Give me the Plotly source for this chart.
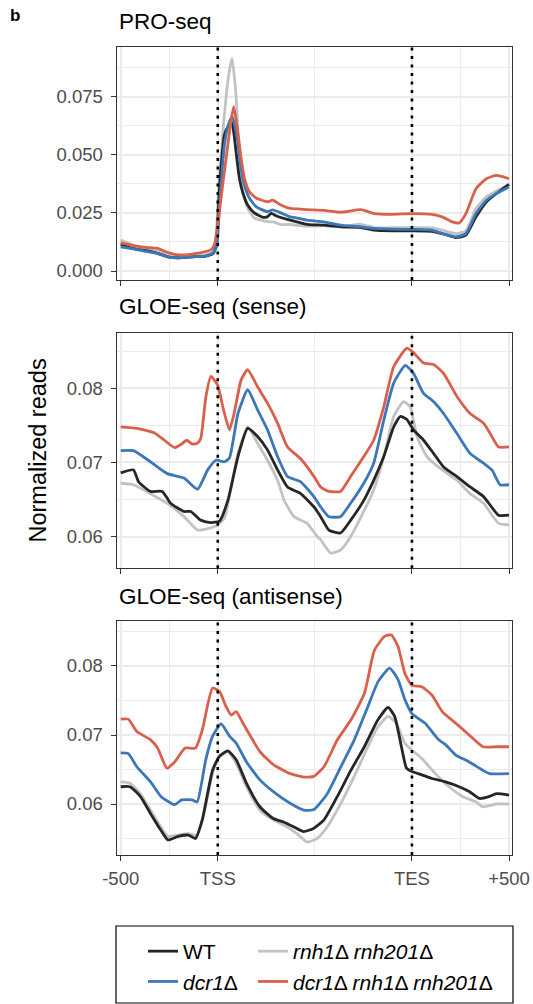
import plotly.graph_objects as go

W, H = 533, 1004
FONT = "Liberation Sans, Arial, Helvetica, sans-serif"

# ---------------- data (x: -500..0 upstream, 0..1000 scaled gene body, 1000..1500 downstream)
# PRO-seq
pro_wt_x = [-500, -417, -363, -310, -257, -204, -133, -62, -23, -5, 5, 15, 34, 55, 72, 85, 94, 111, 128, 154, 188, 230, 255, 275, 300, 373, 460, 547, 634, 738, 807, 894, 1000, 1103, 1156, 1226, 1278, 1330, 1383, 1435, 1500]
pro_wt_y = [0.0114, 0.0093, 0.0087, 0.0076, 0.0061, 0.0057, 0.0061, 0.0064, 0.0076, 0.012, 0.030, 0.043, 0.0585, 0.0625, 0.0640, 0.058, 0.0513, 0.040, 0.034, 0.0284, 0.025, 0.0232, 0.0233, 0.0248, 0.0238, 0.0219, 0.0201, 0.0197, 0.019, 0.0187, 0.0176, 0.0173, 0.0173, 0.0171, 0.0161, 0.0144, 0.0154, 0.0233, 0.0297, 0.0333, 0.0373]
pro_dcr_x = [-500, -417, -363, -310, -257, -204, -133, -62, -23, -5, 10, 34, 55, 75, 94, 103, 120, 137, 163, 197, 257, 282, 325, 373, 410, 460, 547, 634, 738, 807, 894, 1000, 1103, 1156, 1226, 1278, 1330, 1383, 1435, 1500]
pro_dcr_y = [0.0104, 0.0093, 0.0083, 0.0076, 0.0061, 0.0057, 0.0061, 0.0064, 0.0079, 0.011, 0.030, 0.054, 0.063, 0.0664, 0.060, 0.0556, 0.0443, 0.037, 0.0314, 0.0277, 0.0255, 0.0263, 0.025, 0.0233, 0.0228, 0.0219, 0.0211, 0.0197, 0.019, 0.0183, 0.018, 0.0179, 0.0176, 0.0161, 0.0147, 0.0161, 0.0247, 0.0304, 0.0333, 0.0361]
pro_rnh_x = [-500, -417, -363, -310, -257, -204, -133, -62, -23, -10, 3, 28, 54, 73, 94, 111, 128, 154, 188, 257, 286, 325, 373, 460, 547, 634, 738, 807, 894, 1000, 1103, 1156, 1226, 1278, 1330, 1383, 1435, 1500]
pro_rnh_y = [0.0133, 0.0104, 0.009, 0.0083, 0.0064, 0.0057, 0.0061, 0.0069, 0.0083, 0.013, 0.033, 0.0615, 0.083, 0.0915, 0.0757, 0.047, 0.0341, 0.027, 0.0228, 0.0212, 0.0211, 0.020, 0.020, 0.0193, 0.0194, 0.019, 0.0201, 0.0186, 0.0186, 0.0186, 0.0186, 0.0176, 0.0161, 0.0173, 0.0269, 0.0319, 0.0344, 0.0373]
pro_dr_x = [-500, -417, -363, -310, -257, -204, -133, -62, -30, -15, 34, 82, 103, 120, 137, 163, 197, 257, 282, 325, 373, 410, 460, 547, 634, 738, 807, 894, 1000, 1103, 1156, 1208, 1243, 1278, 1330, 1383, 1435, 1500]
pro_dr_y = [0.0121, 0.0107, 0.0101, 0.0097, 0.0079, 0.0069, 0.0073, 0.0083, 0.0095, 0.012, 0.0427, 0.0707, 0.060, 0.0486, 0.040, 0.0341, 0.0314, 0.0298, 0.0305, 0.0284, 0.0269, 0.0267, 0.0264, 0.0261, 0.0253, 0.0264, 0.0247, 0.0244, 0.0247, 0.0244, 0.0233, 0.0211, 0.0207, 0.0247, 0.0354, 0.0397, 0.0411, 0.0397]

# GLOE-seq (sense)
sen_wt_x = [-500, -434, -408, -347, -286, -243, -174, -139, -87, -35, 9, 52, 104, 154, 205, 256, 308, 359, 427, 496, 530, 572, 632, 684, 752, 803, 855, 906, 940, 974, 1008, 1060, 1112, 1163, 1232, 1300, 1369, 1446, 1500]
sen_wt_y = [0.0686, 0.0690, 0.0674, 0.0661, 0.0661, 0.0645, 0.0634, 0.0634, 0.0622, 0.0619, 0.0621, 0.0649, 0.0708, 0.0746, 0.0735, 0.0717, 0.0690, 0.0667, 0.0658, 0.0640, 0.0627, 0.0609, 0.0605, 0.0622, 0.0649, 0.0676, 0.0708, 0.0748, 0.0762, 0.0758, 0.0744, 0.0730, 0.0712, 0.0694, 0.0681, 0.0667, 0.0654, 0.0629, 0.0629]
sen_dcr_x = [-500, -434, -347, -260, -174, -104, -52, -9, 34, 60, 104, 154, 205, 256, 308, 359, 427, 495, 530, 572, 632, 684, 752, 803, 855, 906, 966, 1008, 1060, 1112, 1163, 1232, 1300, 1369, 1412, 1454, 1500]
sen_dcr_y = [0.0716, 0.0716, 0.0701, 0.0685, 0.0679, 0.0664, 0.0690, 0.0703, 0.0701, 0.0706, 0.0766, 0.0798, 0.0771, 0.0744, 0.0708, 0.0681, 0.0674, 0.0654, 0.0640, 0.0627, 0.0627, 0.0645, 0.0672, 0.0699, 0.0757, 0.0807, 0.0831, 0.0820, 0.0793, 0.0782, 0.0766, 0.0739, 0.0712, 0.0699, 0.0690, 0.0670, 0.0670]
sen_rnh_x = [-500, -434, -347, -260, -174, -104, -52, 0, 34, 69, 104, 154, 205, 256, 308, 342, 393, 461, 513, 530, 581, 632, 684, 752, 803, 855, 906, 957, 991, 1026, 1077, 1146, 1232, 1300, 1369, 1446, 1500]
sen_rnh_y = [0.0672, 0.0670, 0.0658, 0.0645, 0.0627, 0.0609, 0.0611, 0.0616, 0.0625, 0.0667, 0.0712, 0.0748, 0.0726, 0.0703, 0.0676, 0.0649, 0.0627, 0.0618, 0.0600, 0.0596, 0.0578, 0.0582, 0.0600, 0.0634, 0.0663, 0.0708, 0.0762, 0.0782, 0.0775, 0.0735, 0.0708, 0.0692, 0.0676, 0.0658, 0.0645, 0.0618, 0.0616]
sen_dr_x = [-500, -417, -328, -275, -222, -186, -160, -133, -104, -87, -61, -35, 0, 26, 60, 85, 120, 154, 205, 256, 308, 359, 427, 496, 530, 572, 632, 684, 752, 803, 855, 906, 974, 1008, 1060, 1112, 1163, 1232, 1300, 1369, 1403, 1446, 1500]
sen_dr_y = [0.0748, 0.0746, 0.0740, 0.0730, 0.0720, 0.0725, 0.0730, 0.0725, 0.0726, 0.0733, 0.0789, 0.0816, 0.0804, 0.0775, 0.0744, 0.0767, 0.0811, 0.0825, 0.0802, 0.0780, 0.0753, 0.0721, 0.0705, 0.0681, 0.0667, 0.0661, 0.0661, 0.0681, 0.0708, 0.0730, 0.0775, 0.0829, 0.0854, 0.0848, 0.0834, 0.0832, 0.0820, 0.0789, 0.0766, 0.0753, 0.0739, 0.0721, 0.0721]

# GLOE-seq (antisense)
ant_wt_x = [-500, -452, -399, -346, -293, -257, -204, -151, -115, -80, -27, 9, 52, 95, 148, 217, 286, 339, 391, 443, 495, 547, 616, 686, 755, 825, 877, 911, 946, 972, 1000, 1033, 1103, 1173, 1243, 1295, 1348, 1400, 1435, 1500]
ant_wt_y = [0.0625, 0.0625, 0.0611, 0.0586, 0.0562, 0.0548, 0.0553, 0.0555, 0.0550, 0.0577, 0.0649, 0.0669, 0.0677, 0.0664, 0.0630, 0.0596, 0.0579, 0.0574, 0.0567, 0.0560, 0.0565, 0.0577, 0.0611, 0.0649, 0.0683, 0.0722, 0.0740, 0.0727, 0.0683, 0.0652, 0.0647, 0.0644, 0.0637, 0.0632, 0.0625, 0.0618, 0.0608, 0.0611, 0.0615, 0.0613]
ant_dcr_x = [-500, -461, -417, -346, -293, -222, -186, -133, -106, -62, -27, 17, 61, 95, 148, 217, 286, 373, 443, 495, 564, 634, 703, 773, 825, 885, 929, 964, 1000, 1068, 1138, 1173, 1226, 1295, 1365, 1400, 1500]
ant_dcr_y = [0.0674, 0.0673, 0.0654, 0.0632, 0.0611, 0.0599, 0.0606, 0.0606, 0.0603, 0.0664, 0.0698, 0.0716, 0.0698, 0.0688, 0.0661, 0.0635, 0.0618, 0.0601, 0.0591, 0.0592, 0.0615, 0.0654, 0.0693, 0.0741, 0.0777, 0.0797, 0.0780, 0.0751, 0.0731, 0.0717, 0.0693, 0.0686, 0.0671, 0.0661, 0.0649, 0.0644, 0.0644]
ant_rnh_x = [-500, -452, -399, -346, -293, -257, -204, -151, -106, -71, -27, 9, 52, 95, 148, 217, 286, 356, 408, 460, 512, 564, 634, 703, 773, 825, 877, 920, 964, 1000, 1051, 1121, 1191, 1261, 1330, 1365, 1435, 1500]
ant_rnh_y = [0.0632, 0.0630, 0.0615, 0.0591, 0.0567, 0.0553, 0.0555, 0.0557, 0.0555, 0.0586, 0.0644, 0.0671, 0.0676, 0.0659, 0.0625, 0.0591, 0.0577, 0.0567, 0.0557, 0.0545, 0.0550, 0.0567, 0.0601, 0.0640, 0.0683, 0.0712, 0.0727, 0.0717, 0.0688, 0.0678, 0.0666, 0.0644, 0.0625, 0.0611, 0.0603, 0.0596, 0.0600, 0.0600]
ant_dr_x = [-500, -461, -417, -346, -310, -262, -222, -168, -115, -80, -27, 9, 43, 69, 95, 130, 165, 217, 286, 373, 443, 495, 547, 616, 686, 755, 807, 859, 894, 929, 964, 1000, 1051, 1103, 1156, 1226, 1295, 1365, 1435, 1500]
ant_dr_y = [0.0723, 0.0723, 0.0705, 0.0693, 0.0681, 0.0652, 0.0661, 0.0681, 0.0681, 0.0707, 0.0768, 0.0763, 0.0741, 0.0729, 0.0734, 0.0717, 0.0700, 0.0676, 0.0657, 0.0644, 0.0639, 0.0640, 0.0654, 0.0693, 0.0722, 0.0760, 0.0823, 0.0843, 0.0845, 0.0828, 0.0789, 0.0772, 0.0770, 0.0758, 0.0734, 0.0717, 0.0700, 0.0683, 0.0683, 0.0683]

strain_labels = ["WT", "<i>dcr1</i>Δ", "<i>rnh1</i>Δ <i>rnh201</i>Δ",
                 "<i>dcr1</i>Δ <i>rnh1</i>Δ <i>rnh201</i>Δ"]
panel_titles = ["PRO-seq", "GLOE-seq (sense)", "GLOE-seq (antisense)"]
x_tick_vals = [-500, 0, 1000, 1500]
x_tick_text = ["-500", "TSS", "TES", "+500"]
marker_lines = [0, 1000]

panels = [
    {"wt": (pro_wt_x, pro_wt_y), "dcr": (pro_dcr_x, pro_dcr_y), "rnh": (pro_rnh_x, pro_rnh_y), "dr": (pro_dr_x, pro_dr_y)},
    {"wt": (sen_wt_x, sen_wt_y), "dcr": (sen_dcr_x, sen_dcr_y), "rnh": (sen_rnh_x, sen_rnh_y), "dr": (sen_dr_x, sen_dr_y)},
    {"wt": (ant_wt_x, ant_wt_y), "dcr": (ant_dcr_x, ant_dcr_y), "rnh": (ant_rnh_x, ant_rnh_y), "dr": (ant_dr_x, ant_dr_y)},
]

# ---------------- styling / layout
COLORS = {"wt": "#262626", "dcr": "#3B78B8", "rnh": "#C2C2C2", "dr": "#D9614C"}
LABEL = {"wt": strain_labels[0], "dcr": strain_labels[1], "rnh": strain_labels[2], "dr": strain_labels[3]}
LEGEND = {"wt": "legend", "dcr": "legend", "rnh": "legend2", "dr": "legend2"}
DRAW_ORDER = ["rnh", "wt", "dcr", "dr"]


def px_x(p):
    return p / W


def px_y(p):
    return 1 - p / H


x_dom = [px_x(116.7), px_x(511.7)]
y_doms = [[px_y(280), px_y(46.7)], [px_y(568.3), px_y(333.3)], [px_y(855), px_y(621)]]
y_ranges = [[-0.00387, 0.0965], [0.05574, 0.08741], [0.05261, 0.08652]]
title_y = [22, 307, 596]

fig = go.Figure()

for i, pdata in enumerate(panels):
    suffix = "" if i == 0 else str(i + 1)
    for key in DRAW_ORDER:
        xs, ys = pdata[key]
        fig.add_trace(go.Scatter(
            x=xs, y=ys, mode="lines", name=LABEL[key],
            line=dict(color=COLORS[key], width=2.8, shape="spline", smoothing=0.5),
            xaxis="x" + suffix, yaxis="y" + suffix,
            showlegend=(i == 0), legend=LEGEND[key], hoverinfo="skip",
        ))

grid_col = "#EBEBEB"
axis_col = "#333333"
tick_font = dict(family=FONT, size=18.5, color="#4D4D4D")

layout = dict(
    width=W, height=H, autosize=False,
    margin=dict(l=0, r=0, t=0, b=0, pad=0, autoexpand=False),
    paper_bgcolor="white", plot_bgcolor="white",
    font=dict(family=FONT, color="black"),
    legend=dict(x=px_x(143), y=px_y(931), xanchor="left", yanchor="top",
                orientation="v", bgcolor="rgba(0,0,0,0)", borderwidth=0,
                font=dict(family=FONT, size=21, color="black"), itemwidth=30),
    legend2=dict(x=px_x(253), y=px_y(931), xanchor="left", yanchor="top",
                 orientation="v", bgcolor="rgba(0,0,0,0)", borderwidth=0,
                 font=dict(family=FONT, size=21, color="black"), itemwidth=30),
)

for i in range(3):
    suffix = "" if i == 0 else str(i + 1)
    xa = dict(
        domain=x_dom, range=[-520.6, 1513.9], anchor="y" + suffix,
        tickmode="array", tickvals=x_tick_vals, ticktext=x_tick_text,
        showticklabels=(i == 2), ticks="outside", ticklen=5, tickwidth=1.3, tickcolor=axis_col,
        tickfont=tick_font, ticklabelstandoff=2, automargin=False,
        showgrid=True, gridcolor=grid_col, gridwidth=1.5,
        minor=dict(tickmode="array", tickvals=[-250, 500, 1250], showgrid=True,
                   gridcolor=grid_col, gridwidth=0.9, ticks=""),
        showline=True, linecolor=axis_col, linewidth=1.3, mirror=True, zeroline=False,
        fixedrange=True,
    )
    if i == 0:
        ya = dict(tickmode="linear", tick0=0, dtick=0.025, tickformat=".3f",
                  minor=dict(dtick=0.0125, tick0=0, showgrid=True, gridcolor=grid_col, gridwidth=0.9, ticks=""))
    else:
        ya = dict(tickmode="linear", tick0=0, dtick=0.01, tickformat=".2f",
                  minor=dict(dtick=0.005, tick0=0, showgrid=True, gridcolor=grid_col, gridwidth=0.9, ticks=""))
    ya.update(dict(
        domain=y_doms[i], range=y_ranges[i], anchor="x" + suffix,
        ticks="outside", ticklen=5, tickwidth=1.3, tickcolor=axis_col,
        tickfont=tick_font, ticklabelstandoff=4, automargin=False,
        showgrid=True, gridcolor=grid_col, gridwidth=1.5,
        showline=True, linecolor=axis_col, linewidth=1.3, mirror=True, zeroline=False,
        fixedrange=True,
    ))
    layout["xaxis" + suffix] = xa
    layout["yaxis" + suffix] = ya

shapes = []
for i in range(3):
    suffix = "" if i == 0 else str(i + 1)
    for xv in marker_lines:
        shapes.append(dict(type="line", xref="x" + suffix, yref="y" + suffix + " domain",
                           x0=xv, x1=xv, y0=0, y1=1, layer="above",
                           line=dict(color="black", width=2.6, dash="3px,5.5px")))
# legend frame
shapes.append(dict(type="rect", xref="paper", yref="paper",
                   x0=px_x(116), x1=px_x(513), y0=px_y(1003), y1=px_y(926),
                   line=dict(color="black", width=1.2), fillcolor="rgba(0,0,0,0)", layer="above"))
layout["shapes"] = shapes

annotations = []
for i, t in enumerate(panel_titles):
    annotations.append(dict(text=t, x=px_x(116.5), y=px_y(title_y[i]), xref="paper", yref="paper",
                            xanchor="left", yanchor="middle", showarrow=False,
                            font=dict(family=FONT, size=22.5, color="black")))
annotations.append(dict(text="Normalized reads", x=px_x(38), y=px_y(450.5), xref="paper", yref="paper",
                        xanchor="center", yanchor="middle", textangle=-90, showarrow=False,
                        font=dict(family=FONT, size=23.5, color="black")))
annotations.append(dict(text="<b>b</b>", x=px_x(15), y=px_y(16), xref="paper", yref="paper",
                        xanchor="center", yanchor="middle", showarrow=False,
                        font=dict(family=FONT, size=17, color="black")))
layout["annotations"] = annotations

fig.update_layout(**layout)
fig.write_html("out.html")
